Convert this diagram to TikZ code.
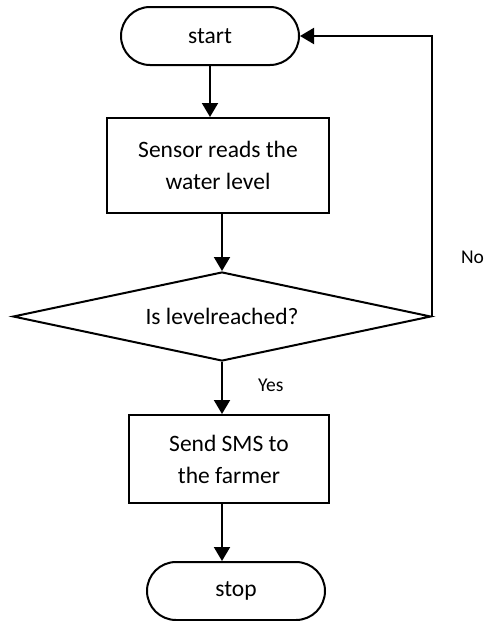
\documentclass[tikz,border=0pt]{standalone}
\usepackage{fontspec}
\setmainfont{Carlito}
\usetikzlibrary{shapes.geometric, arrows.meta}
\tikzstyle{startstop} = [rectangle, rounded corners=29pt, minimum width=178pt, minimum height=58pt, align=center, draw=black, line width=2pt, fill=white]
\tikzstyle{process} = [rectangle, minimum height=90pt, align=center, draw=black, line width=2pt, fill=white]
\tikzstyle{decision} = [diamond, aspect=4.7, minimum width=418pt, minimum height=89pt, inner sep=0pt, align=center, draw=black, line width=2pt, fill=white]
\tikzstyle{arrow} = [line width=2pt, -{Triangle[length=14pt, width=16pt]}]
\tikzstyle{label} = [font=\fontsize{19.5}{23}\selectfont, inner sep=0pt]

\begin{document}
\begin{tikzpicture}[x=1pt, y=1pt, font=\fontsize{23.5}{32}\selectfont]
\useasboundingbox (0,0) rectangle (485,-621);
\node (start) [startstop] at (210,-36) {start};
\node (pro1) [process, minimum width=222pt, minimum height=95pt] at (218,-165.5) {Sensor reads the\\water level};
\node (dec) [decision] at (222,-316.5) {Is levelreached?};
\node (pro2) [process, minimum width=200pt, minimum height=88pt] at (229,-459) {Send SMS to\\the farmer};
\node (stop) [startstop] at (236,-591) {stop};
\draw [arrow] (start.south) -- (start.south |- pro1.north);
\draw [arrow] (pro1.south -| dec.north) -- (dec.north);
\draw [arrow] (dec.south) -- node[label, anchor=west, xshift=35pt, pos=0.45] {Yes} (dec.south |- pro2.north);
\draw [arrow] (pro2.south -| dec.north) -- (stop.north -| dec.north);
\draw [arrow] (dec.east) |- node[label, anchor=west, xshift=28pt, pos=0.105] {No} (start.east);
\end{tikzpicture}
\end{document}
